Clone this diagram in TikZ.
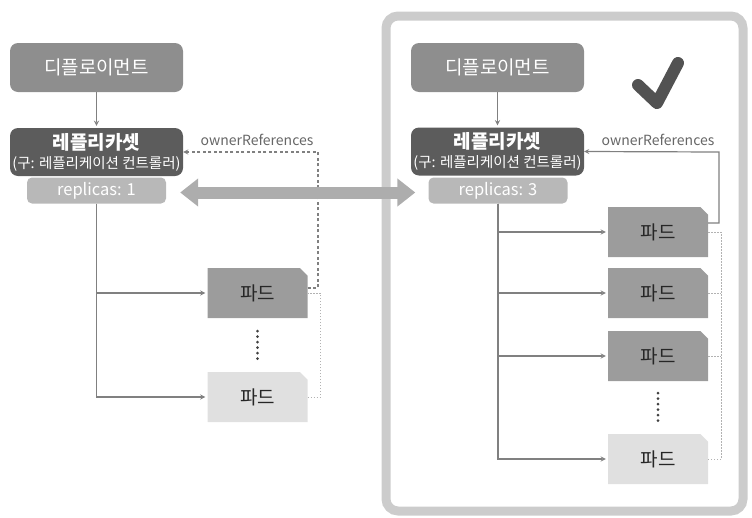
\documentclass[tikz,border=0pt]{standalone}
\usepackage{fontspec}
\setmainfont{Noto Sans CJK KR}
\usetikzlibrary{arrows.meta,shapes.misc}

\definecolor{deploygray}{HTML}{8E8E8E}
\definecolor{rsgray}{HTML}{5C5C5C}
\definecolor{repgray}{HTML}{B8B8B8}
\definecolor{podgray}{HTML}{9C9C9C}
\definecolor{podlight}{HTML}{E0E0E0}
\definecolor{linegray}{HTML}{808080}
\definecolor{panelgray}{HTML}{CCCCCC}

\begin{document}
\begin{tikzpicture}[
                x=1pt, y=-1pt,
                box/.style={
                    rectangle,
                    rounded corners=8pt,
                    minimum width=173pt,
                    minimum height=49pt,
                    align=center,
                    inner sep=1pt,
                    text=white
                },
                deploybox/.style={
                    box,
                    fill=deploygray,
                    font=\fontsize{19}{22}\selectfont
                },
                rsbox/.style={
                    box,
                    fill=rsgray,
                    minimum height=48pt,
                    font=\fontsize{19}{22}\selectfont
                },
                repbox/.style={
                    box,
                    rounded corners=5pt,
                    fill=repgray,
                    minimum width=139pt,
                    minimum height=26pt,
                    font=\fontsize{16.5}{18}\selectfont
                },
                podbox/.style={
                    chamfered rectangle,
                    chamfered rectangle corners=north east,
                    chamfered rectangle xsep=4pt,
                    fill=podgray,
                    minimum width=100pt,
                    minimum height=50pt,
                    text=black!85,
                    font=\fontsize{19}{22}\selectfont
                },
                podbox2/.style={
                    podbox,
                    fill=podlight
                },
                arrow/.style={
                    ->,
                    draw=linegray,
                    line width=1.3pt,
                    >=stealth,
                    shorten >=2pt
                },
                refdash/.style={
                    ->,
                    >=stealth,
                    draw=linegray,
                    line width=1.2pt,
                    dash pattern=on 3pt off 2.5pt
                },
                refline/.style={
                    ->,
                    >=stealth,
                    draw=linegray,
                    line width=1.2pt
                },
                podlink/.style={
                    draw=black!30,
                    line width=1pt,
                    dash pattern=on 1.5pt off 1.5pt
                },
                vdots/.style={
                    draw=black!75,
                    line width=3pt,
                    line cap=round,
                    dash pattern=on 0pt off 5.5pt
                },
                reflabel/.style={
                    text=black!60,
                    font=\fontsize{14}{16}\selectfont
                },
                bigarrow/.style={
                    {Triangle[length=18pt,width=27pt]}-{Triangle[length=18pt,width=27pt]},
                    draw=black!32,
                    line width=12pt
                }
            ]

                \useasboundingbox (0,0) rectangle (752,517);
                \draw[panelgray, line width=9pt, rounded corners=12pt] (386,16) rectangle (743,511);

                \node[deploybox] (depL) at (96.5,67.5) {디플로이먼트};
                \node[rsbox] (rsL) at (96.5,152) {\textbf{레플리카셋}\\[-3pt]{\fontsize{14.5}{16}\selectfont (구: 레플리케이션 컨트롤러)}};
                \node[repbox] (repL) at (96.5,190.5) {replicas: 1};
                \node[podbox] (podL1) at (257.5,293) {파드};
                \node[podbox2] (podL2) at (257.5,397) {파드};
                \node[reflabel] (refL) at (257,140) {ownerReferences};
                \coordinate (ownL) at (318,152);

                \node[deploybox] (depR) at (497.5,67.5) {디플로이먼트};
                \node[rsbox] (rsR) at (497.5,151.5) {\textbf{레플리카셋}\\[-3pt]{\fontsize{14.5}{16}\selectfont (구: 레플리케이션 컨트롤러)}};
                \node[repbox] (repR) at (498,190.5) {replicas: 3};
                \node[podbox] (podR1) at (658,232) {파드};
                \node[podbox] (podR2) at (658,293) {파드};
                \node[podbox] (podR3) at (658,356) {파드};
                \node[podbox2] (podR4) at (658,459) {파드};
                \node[reflabel] (refR) at (658,140) {ownerReferences};
                \coordinate (ownR) at (719,152);

                \draw[arrow] (depL) -- (rsL);
                \draw[arrow] (repL.south) |- (podL1.west);
                \draw[arrow] (repL.south) |- (podL2.west);
                \draw[refdash] ([yshift=5pt]podL1.east) -| (ownL) -- (rsL.east);
                \draw[podlink] (podL2.east) -- ++(13,0) |- (podL1.east);
                \draw[vdots] ([yshift=-13pt]podL1.south) -- ([yshift=10pt]podL2.north);

                \draw[arrow] (depR) -- (rsR);
                \draw[arrow] (repR.south) |- (podR1.west);
                \draw[arrow] (repR.south) |- (podR2.west);
                \draw[arrow] (repR.south) |- (podR3.west);
                \draw[arrow] (repR.south) |- (podR4.west);
                \draw[refline] ([yshift=9pt]podR1.east) -| (ownR) -- (rsR.east);
                \draw[podlink] (podR1.east) -- ++(13,0) |- (podR4.east);
                \draw[podlink] (podR2.east) -- ++(13,0);
                \draw[podlink] (podR3.east) -- ++(13,0);
                \draw[vdots] ([yshift=-12pt]podR3.south) -- ([yshift=10pt]podR4.north);

                \draw[bigarrow] ([xshift=14pt,yshift=-2pt]repL.east) -- ([xshift=-13pt,yshift=-2pt]repR.west);
                \draw[black!68, line width=12pt, line cap=round, line join=round] (638,85) -- (657,103) -- (678,63);
        \end{tikzpicture}
\end{document}
